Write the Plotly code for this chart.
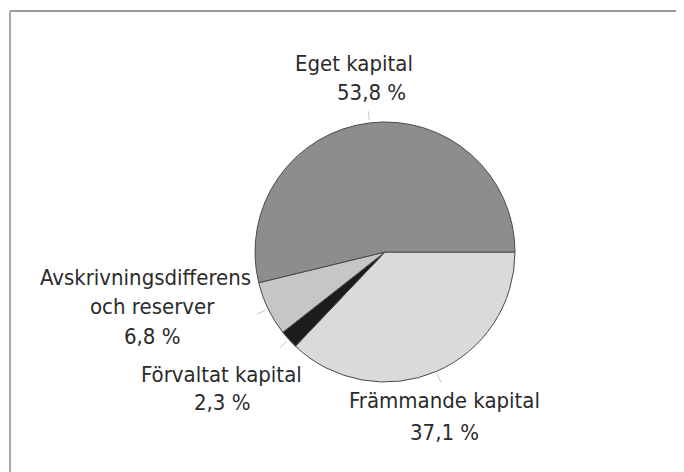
import math
import plotly.graph_objects as go

# ---- data ----
labels = ["Främmande kapital", "Förvaltat kapital", "Avskrivningsdifferens och reserver", "Eget kapital"]
values = [37.1, 2.3, 6.8, 53.8]
label_lines = [["Främmande kapital"], ["Förvaltat kapital"], ["Avskrivningsdifferens", "och reserver"], ["Eget kapital"]]

# ---- style / layout ----
W, H = 684, 472
OFF = 8  # page body margin in the browser
colors = ["#dadada", "#1c1c1c", "#c6c6c6", "#8d8d8d"]
CX, CY, R = 385, 252, 130
FONT = "DejaVu Sans Condensed, Liberation Sans Narrow, sans-serif"
FSIZE = 22
TXT = "#2b2b2b"
# pixel position (per-line x centers, first line center y, line pitch)
label_pos = [
    ([445, 445], 400, 32),
    ([221, 222], 374, 28),
    ([145, 152, 152], 277, 29.5),
    ([354, 371], 63, 30),
]


def px(x):
    return (x - OFF) / W


def py(y):
    return 1 - (y - OFF) / H


fig = go.Figure(go.Pie(
    labels=labels,
    values=values,
    sort=False,
    direction="clockwise",
    rotation=90,
    marker=dict(colors=colors, line=dict(color="#4a4a4a", width=1)),
    textinfo="none",
    hoverinfo="label+percent",
    showlegend=False,
    domain=dict(x=[px(CX - R), px(CX + R)], y=[py(CY + R), py(CY - R)]),
))

annotations = []
shapes = []
total = sum(values)
cum = 0.0
for i, v in enumerate(values):
    mid = (cum + v / 2) / total * 360.0
    cum += v
    ang = math.radians(mid)
    dx, dy = math.cos(ang), math.sin(ang)
    shapes.append(dict(type="line", xref="paper", yref="paper",
                       x0=px(CX + dx * (R + 3)), y0=py(CY + dy * (R + 3)),
                       x1=px(CX + dx * (R + 12)), y1=py(CY + dy * (R + 12)),
                       line=dict(color="#c4c4c4", width=1)))
    lines = label_lines[i] + [f"{v:.1f}".replace(".", ",") + " %"]
    xs, y0, pitch = label_pos[i]
    for j, t in enumerate(lines):
        annotations.append(dict(text=t, xref="paper", yref="paper",
                                x=px(xs[j]), y=py(y0 + j * pitch),
                                xanchor="center", yanchor="middle", showarrow=False,
                                font=dict(family=FONT, size=FSIZE, color=TXT)))

# frame (top and left edges)
shapes.append(dict(type="line", xref="paper", yref="paper", x0=px(10), y0=py(11), x1=1.0, y1=py(11),
                   line=dict(color="#9a9a9a", width=2)))
shapes.append(dict(type="line", xref="paper", yref="paper", x0=px(10), y0=py(11), x1=px(10), y1=0.0,
                   line=dict(color="#a8a8a8", width=2)))

fig.update_layout(
    width=W, height=H,
    margin=dict(l=0, r=0, t=0, b=0),
    paper_bgcolor="white", plot_bgcolor="white",
    annotations=annotations, shapes=shapes,
)

fig.write_html("out.html")
